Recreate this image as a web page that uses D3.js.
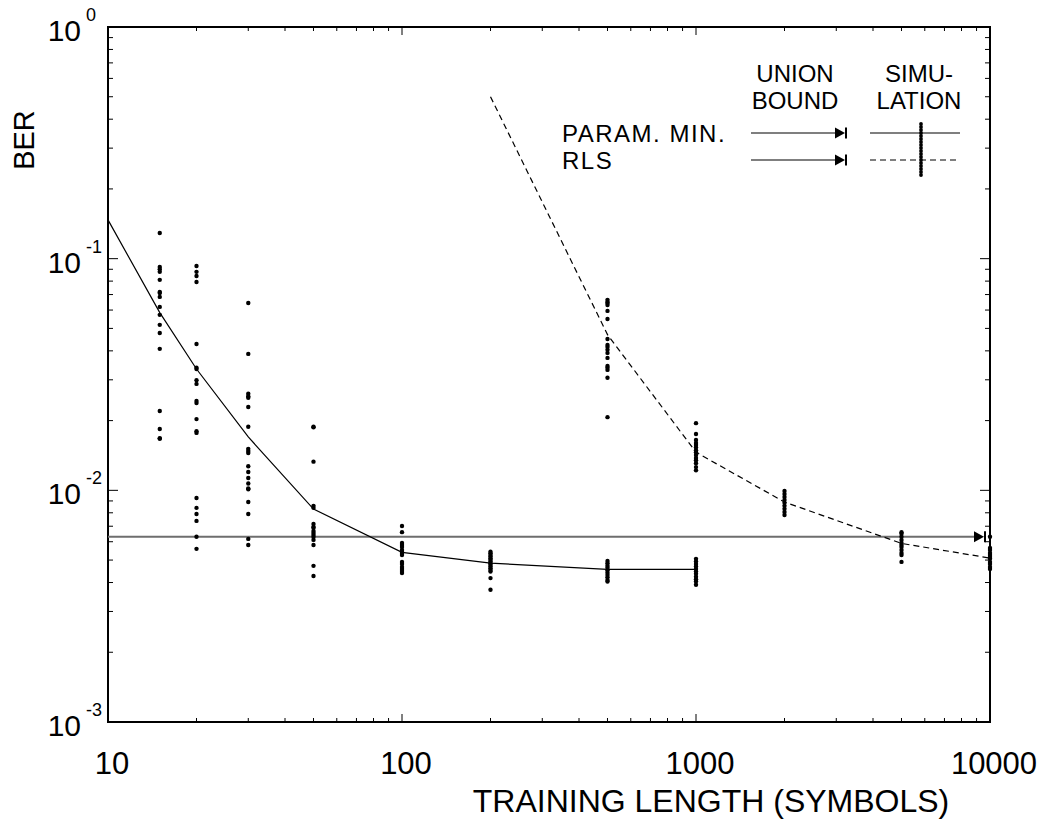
<!DOCTYPE html>
<html lang="en">
<head>
    <meta charset="UTF-8" />
    <title>BER vs training length</title>
    <style>
        body { margin: 0; background: #fff; }
        svg { display: block; font-family: "Liberation Sans", Arial, Helvetica, sans-serif; }
    </style>
</head>
<body>
    <svg></svg>
    <script src="https://d3js.org/d3.v7.min.js"></script>
    <script>
        // parametric minimisation: union bound curve
        const paramLengths = [10, 15, 20, 30, 50, 100, 200, 500, 1000];
        const paramBer = [0.147, 0.0585, 0.0334, 0.017, 0.0083, 0.0054, 0.00485, 0.00456, 0.00456];

        // RLS: union bound curve
        const rlsLengths = [200, 500, 1000, 2000, 5000, 10000];
        const rlsBer = [0.5, 0.047, 0.0146, 0.0089, 0.0059, 0.0051];

        // union bound for infinite training (horizontal line)
        const unionBoundBer = 0.0063;

        // simulation points, parametric minimisation
        const paramSimLengths = [15, 20, 30, 50, 100, 200, 500, 1000];
        const paramSimBer = [
            [0.129, 0.092, 0.090, 0.0877, 0.081, 0.0718, 0.0711, 0.0684, 0.0619, 0.0572, 0.0518, 0.0478, 0.0408, 0.022, 0.0184, 0.0168, 0.0167],
            [0.093, 0.0877, 0.0842, 0.0793, 0.0428, 0.0338, 0.0334, 0.0299, 0.0288, 0.0243, 0.0238, 0.0203, 0.018, 0.0177, 0.00927, 0.0084, 0.0079, 0.00738, 0.0063, 0.00559],
            [0.0644, 0.0388, 0.0261, 0.0255, 0.0251, 0.0229, 0.0188, 0.0151, 0.0148, 0.0145, 0.0127, 0.012, 0.0113, 0.0107, 0.0102, 0.0101, 0.0089, 0.0079, 0.00617, 0.00581],
            [0.0188, 0.0187, 0.0133, 0.00857, 0.0084, 0.00716, 0.00695, 0.00689, 0.00668, 0.00655, 0.00642, 0.00629, 0.00611, 0.00581, 0.00472, 0.00427],
            [0.00702, 0.0066, 0.00593, 0.00581, 0.0057, 0.00553, 0.00542, 0.00537, 0.00526, 0.00491, 0.00481, 0.00467, 0.00458, 0.00449, 0.0044],
            [0.00543, 0.00535, 0.00526, 0.00518, 0.00509, 0.00501, 0.00493, 0.00485, 0.00477, 0.00469, 0.00461, 0.00453, 0.00446, 0.00418, 0.00372],
            [0.00496, 0.00485, 0.00473, 0.00463, 0.00452, 0.00441, 0.00431, 0.00421, 0.0041, 0.00404],
            [0.00506, 0.00493, 0.00481, 0.00469, 0.00458, 0.00446, 0.00436, 0.00424, 0.00413, 0.00404, 0.00391]
        ];

        // simulation points, RLS
        const rlsSimLengths = [500, 1000, 2000, 5000, 10000];
        const rlsSimBer = [
            [0.0664, 0.065, 0.0644, 0.0631, 0.0595, 0.0549, 0.045, 0.0424, 0.0416, 0.0404, 0.0392, 0.0373, 0.0344, 0.0338, 0.0331, 0.0306, 0.0207],
            [0.0195, 0.0175, 0.0165, 0.016, 0.0157, 0.0153, 0.0149, 0.0146, 0.0142, 0.0138, 0.0135, 0.0131, 0.0126, 0.0122],
            [0.00994, 0.00964, 0.00937, 0.00909, 0.00883, 0.00857, 0.00832, 0.00807, 0.00783],
            [0.0066, 0.00649, 0.0063, 0.00611, 0.00593, 0.00581, 0.0057, 0.00553, 0.00537, 0.00526, 0.00491],
            [0.0063, 0.00564, 0.00553, 0.00537, 0.00526, 0.00516, 0.00506, 0.00491, 0.00481, 0.00467, 0.00458]
        ];

        const xTickLabels = ["10", "100", "1000", "10000"];
        const yTickExponents = [0, -1, -2, -3];

        const width = 1042, height = 825;
        const mLeft = 108, mRight = 990, mTop = 27, mBottom = 722;

        const svg = d3.select("svg").attr("width", width).attr("height", height);

        const x = d3.scaleLog().domain([10, 10000]).range([mLeft, mRight]);
        const y = d3.scaleLog().domain([1e-3, 1]).range([mBottom, mTop]);

        const isMajor = v => Math.abs(Math.log10(v) - Math.round(Math.log10(v))) < 1e-9;
        const xTicks = x.ticks();
        const yTicks = y.ticks();

        // ticks on all four sides, pointing inwards
        const tickG = svg.append("g").attr("stroke", "#000").attr("stroke-width", 1);
        xTicks.forEach(v => {
            const len = isMajor(v) ? 8 : 4;
            tickG.append("line").attr("x1", x(v)).attr("x2", x(v)).attr("y1", mBottom).attr("y2", mBottom - len);
            tickG.append("line").attr("x1", x(v)).attr("x2", x(v)).attr("y1", mTop).attr("y2", mTop + len);
        });
        yTicks.forEach(v => {
            const len = isMajor(v) ? 10 : 5;
            tickG.append("line").attr("x1", mLeft).attr("x2", mLeft + len).attr("y1", y(v)).attr("y2", y(v));
            tickG.append("line").attr("x1", mRight).attr("x2", mRight - len).attr("y1", y(v)).attr("y2", y(v));
        });

        // frame
        svg.append("rect")
            .attr("x", mLeft).attr("y", mTop)
            .attr("width", mRight - mLeft).attr("height", mBottom - mTop)
            .attr("fill", "none").attr("stroke", "#000").attr("stroke-width", 2);

        // x tick labels
        svg.append("g").selectAll("text")
            .data(xTickLabels)
            .join("text")
            .attr("x", d => x(+d) + 4)
            .attr("y", 774)
            .attr("text-anchor", "middle")
            .attr("font-size", 31)
            .text(d => d);

        // y tick labels 10^n, the "10" ends at x=81, exponent follows
        const yLab = svg.append("g").selectAll("text")
            .data(yTickExponents)
            .join("text")
            .attr("y", d => y(Math.pow(10, d)) + 14)
            .attr("font-size", 30);
        yLab.append("tspan").text("10");
        yLab.append("tspan")
            .attr("dx", 5).attr("dy", -20)
            .attr("font-size", 18)
            .text(d => d);
        yLab.each(function () {
            const base = this.firstChild.getComputedTextLength();
            d3.select(this).attr("x", 81 - base);
        });

        // axis titles
        svg.append("text")
            .attr("x", 711).attr("y", 812)
            .attr("text-anchor", "middle")
            .attr("font-size", 32)
            .text("TRAINING LENGTH (SYMBOLS)");
        svg.append("text")
            .attr("transform", "translate(34,140) rotate(-90)")
            .attr("text-anchor", "middle")
            .attr("font-size", 29)
            .text("BER");

        const plot = svg.append("g");

        function arrow(g, tipX, cy, color) {
            g.append("path")
                .attr("d", `M${tipX - 10},${cy - 5.5}L${tipX},${cy}L${tipX - 10},${cy + 5.5}Z`)
                .attr("fill", color);
            g.append("line")
                .attr("x1", tipX + 1).attr("x2", tipX + 1)
                .attr("y1", cy - 5.5).attr("y2", cy + 5.5)
                .attr("stroke", color).attr("stroke-width", 2);
        }

        // union bound line with arrow
        const arrowTip = x(10000) - 6;
        plot.append("line")
            .attr("x1", x(10)).attr("x2", arrowTip - 8)
            .attr("y1", y(unionBoundBer)).attr("y2", y(unionBoundBer))
            .attr("stroke", "#6e6e6e").attr("stroke-width", 2);
        arrow(plot, arrowTip, y(unionBoundBer), "#000");

        const line = d3.line().x(d => x(d[0])).y(d => y(d[1]));

        plot.append("path")
            .datum(d3.zip(paramLengths, paramBer))
            .attr("d", line)
            .attr("fill", "none").attr("stroke", "#000").attr("stroke-width", 1.2);

        plot.append("path")
            .datum(d3.zip(rlsLengths, rlsBer))
            .attr("d", line)
            .attr("fill", "none").attr("stroke", "#000").attr("stroke-width", 1.2)
            .attr("stroke-dasharray", "6,4");

        // simulation dots
        const simPts = [];
        paramSimLengths.forEach((n, i) => paramSimBer[i].forEach(b => simPts.push([n, b])));
        rlsSimLengths.forEach((n, i) => rlsSimBer[i].forEach(b => simPts.push([n, b])));
        plot.append("g").selectAll("circle")
            .data(simPts)
            .join("circle")
            .attr("cx", d => x(d[0]))
            .attr("cy", d => y(d[1]))
            .attr("r", 2.2)
            .attr("fill", "#000");

        // legend
        const legend = svg.append("g").attr("font-size", 24);
        legend.append("text").attr("x", 795).attr("y", 82).attr("text-anchor", "middle").text("UNION");
        legend.append("text").attr("x", 795).attr("y", 109).attr("text-anchor", "middle").text("BOUND");
        legend.append("text").attr("x", 919).attr("y", 82).attr("text-anchor", "middle").text("SIMU-");
        legend.append("text").attr("x", 919).attr("y", 109).attr("text-anchor", "middle").text("LATION");

        const legendRows = [
            { label: "PARAM. MIN.", y: 133, dash: null },
            { label: "RLS", y: 160, dash: "6,4" }
        ];
        const dotOffsets = [-6, -3, 0, 3, 6, 9, 12, 15, 18];
        legendRows.forEach(r => {
            legend.append("text")
                .attr("x", 562).attr("y", r.y + 9)
                .attr("letter-spacing", 1.5)
                .text(r.label);
            legend.append("line")
                .attr("x1", 751).attr("x2", 836)
                .attr("y1", r.y).attr("y2", r.y)
                .attr("stroke", "#000").attr("stroke-width", 1.2);
            arrow(legend, 845, r.y, "#000");
            legend.append("line")
                .attr("x1", 870).attr("x2", 960)
                .attr("y1", r.y).attr("y2", r.y)
                .attr("stroke", "#000").attr("stroke-width", 1.2)
                .attr("stroke-dasharray", r.dash);
            legend.append("g").selectAll("circle")
                .data(dotOffsets)
                .join("circle")
                .attr("cx", 921)
                .attr("cy", d => r.y + d - 3)
                .attr("r", 1.9)
                .attr("fill", "#000");
        });
    </script>
</body>
</html>
